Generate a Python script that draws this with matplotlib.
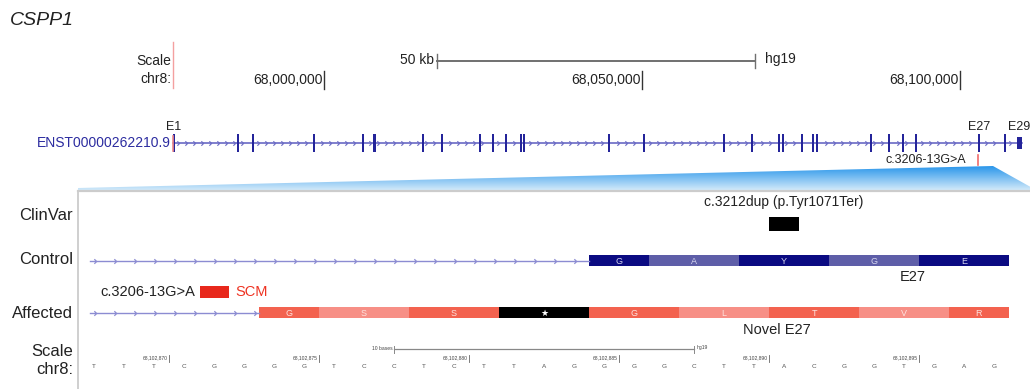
import numpy as np
import matplotlib
matplotlib.use("Agg")
import matplotlib.pyplot as plt
from matplotlib.path import Path
from matplotlib.patches import Rectangle, Polygon
from matplotlib.colors import to_rgb

plt.rcParams['font.family'] = ['Liberation Sans', 'DejaVu Sans']

# ---------------- data ----------------
gene_name = "CSPP1"
transcript_id = "ENST00000262210.9"
chrom = "chr8"
ruler_ticks = [68000000, 68050000, 68100000]
scale_bar_start = 68017760
scale_bar_len = 50000
scale_bar_label = "50 kb"
assembly = "hg19"

exon_starts = [67976260, 67986320, 67988680, 67998270, 68005970, 68007700,
               68015400, 68018390, 68024370, 68026410, 68028450, 68030810,
               68031280, 68044650, 68050150, 68062720, 68067120, 68071370,
               68072000, 68074980, 68076710, 68077340, 68085830, 68088660,
               68090860, 68092900, 68102880, 68106900, 68108940]
exon_widths = [150, 150, 150, 150, 150, 470, 150, 150, 150, 150, 150, 150,
               150, 150, 150, 150, 150, 150, 150, 150, 150, 150, 150, 150,
               150, 150, 150, 150, 800]
exon_names = {0: "E1", 26: "E27", 28: "E29"}
variant_pos = 68102872
variant_label = "c.3206-13G>A"

zoom_start = 68102868
bases = list("TTTCGGGGTCCTCTTAGGGGCTTACGGTGAG")
base_ticks = [68102870, 68102875, 68102880, 68102885, 68102890, 68102895]
base_bar_start = 68102878
base_bar_len = 10
base_bar_label = "10 bases"

clinvar_pos = 68102891
clinvar_label = "c.3212dup (p.Tyr1071Ter)"

control_exon_start = 68102885
control_codons = ['G', 'A', 'Y', 'G', 'E']
control_codon_len = [2, 3, 3, 3, 3]

affected_exon_start = 68102874
affected_codons = ['G', 'S', 'S', '*', 'G', 'L', 'T', 'V', 'R']
affected_codon_len = [2, 3, 3, 3, 3, 3, 3, 3, 2]

# ---------------- layout ----------------
FIG_W, FIG_H = 1030, 389
fig = plt.figure(figsize=(FIG_W / 100, FIG_H / 100), dpi=100)


def overlay(xlim, name):
    ax = fig.add_axes([0, 0, 1, 1], label=name)
    ax.set_xlim(*xlim)
    ax.set_ylim(FIG_H, 0)
    ax.axis('off')
    ax.patch.set_alpha(0)
    return ax


TXT = '#222222'
ax_px = overlay((0, FIG_W), 'px')
TOP_REF_PX, TOP_BP_PER_PX = 324, 157.2
ax_top = overlay((ruler_ticks[0] - TOP_REF_PX * TOP_BP_PER_PX,
                  ruler_ticks[0] + (FIG_W - TOP_REF_PX) * TOP_BP_PER_PX), 'top')
BOT_REF_PX, BOT_PX_PER_BASE = 94, 30
ax_bot = overlay((zoom_start - BOT_REF_PX / BOT_PX_PER_BASE,
                  zoom_start + (FIG_W - BOT_REF_PX) / BOT_PX_PER_BASE), 'bot')

chev = Path([(-0.5, 1.0), (0.5, 0.0), (-0.5, -1.0)],
            [Path.MOVETO, Path.LINETO, Path.LINETO])

# title
ax_px.text(10, 20, gene_name, style='italic', fontsize=14, va='center',
           ha='left', color=TXT)

# ---------------- top ruler ----------------
tx_start = exon_starts[0]
tx_end = exon_starts[-1] + exon_widths[-1]
ax_top.annotate("Scale", (tx_start, 61), xytext=(-1.5, 0), textcoords='offset points',
                ha='right', va='center', fontsize=10, color=TXT)
ax_top.annotate(chrom + ":", (tx_start, 79), xytext=(-1.5, 0), textcoords='offset points',
                ha='right', va='center', fontsize=10, color=TXT)
ax_top.plot([tx_start, tx_start], [42, 88], color='#f4a0a0', lw=1.0)

sb_end = scale_bar_start + scale_bar_len
ax_top.plot([scale_bar_start, sb_end], [61, 61], color='#707070', lw=1.4)
for xx in (scale_bar_start, sb_end):
    ax_top.plot([xx, xx], [54, 68], color='#707070', lw=1.0)
ax_top.annotate(scale_bar_label, (scale_bar_start, 60), xytext=(-2.5, 0),
                textcoords='offset points', ha='right', va='center',
                fontsize=10, color=TXT)
ax_top.annotate(assembly, (sb_end, 59), xytext=(7, 0), textcoords='offset points',
                ha='left', va='center', fontsize=10, color=TXT)
for t in ruler_ticks:
    ax_top.plot([t, t], [71, 89], color='#333333', lw=1.0)
    ax_top.annotate(f"{t:,}", (t, 80), xytext=(-1, 0), textcoords='offset points',
                    ha='right', va='center', fontsize=10, color=TXT)

# ---------------- transcript ----------------
Y_TX = 143
ax_top.plot([tx_start, tx_end], [Y_TX, Y_TX], color='#5c5cc0', lw=1.1, zorder=2)
min_w = 1.7 * TOP_BP_PER_PX
chev_x = np.arange(tx_start + 5 * TOP_BP_PER_PX, tx_end, 8 * TOP_BP_PER_PX)
es = np.array(exon_starts)
keep = [x for x in chev_x if np.min(np.abs(es - x)) > 2.5 * TOP_BP_PER_PX]
ax_top.plot(keep, [Y_TX] * len(keep), linestyle='none', marker=chev,
            markersize=3.2, markerfacecolor='none', markeredgecolor='#6a6ac4',
            markeredgewidth=0.8, zorder=2)
for i, (s, w) in enumerate(zip(exon_starts, exon_widths)):
    h = 18 if i != len(exon_starts) - 1 else 12
    ax_top.add_patch(Rectangle((s, Y_TX - h / 2), max(w, min_w), h,
                               facecolor='#24249a', edgecolor='none', zorder=3))
ax_top.plot([tx_start, tx_start], [136, 151], color='#f08a8a', lw=1.2, zorder=4)
for i, nm in exon_names.items():
    ha = 'left' if i == len(exon_starts) - 1 else 'center'
    off = -8 if ha == 'left' else 0
    ax_top.annotate(nm, (exon_starts[i] + exon_widths[i] / 2, 127), xytext=(off, 0),
                    textcoords='offset points', ha=ha, va='center',
                    fontsize=9, color=TXT)
ax_top.annotate(transcript_id, (tx_start, Y_TX), xytext=(-1.5, 0),
                textcoords='offset points', ha='right', va='center',
                fontsize=10, color='#2c2ca0')
ax_top.plot([variant_pos, variant_pos], [155, 165], color='#f06b6b', lw=1.2)
ax_top.annotate(variant_label, (variant_pos, 160), xytext=(-9, 0),
                textcoords='offset points', ha='right', va='center',
                fontsize=9, color=TXT)

# ---------------- zoom wedge + panel ----------------
wedge = Polygon([(78, 191), (78, 188), (993, 166), (1036, 190), (1036, 191)],
                closed=True, facecolor='none', edgecolor='none')
ax_px.add_patch(wedge)
c_top = np.array(to_rgb('#2393ea'))
c_bot = np.array(to_rgb('#d8ecfa'))
tt = np.linspace(0, 1, 64)[:, None, None]
grad = c_top * (1 - tt) + c_bot * tt
im = ax_px.imshow(grad, extent=[78, 1036, 191, 165], origin='upper',
                  aspect='auto', interpolation='bilinear', zorder=1)
im.set_clip_path(wedge)
ax_px.set_xlim(0, FIG_W)
ax_px.set_ylim(FIG_H, 0)
ax_px.plot([78, FIG_W], [191, 191], color='#cccccc', lw=1.6, zorder=2)
ax_px.plot([78, 78], [191, FIG_H], color='#cccccc', lw=1.3, zorder=2)

# track labels
for lab, yy in [("ClinVar", 215), ("Control", 260), ("Affected", 313),
                ("Scale", 351), (chrom + ":", 369)]:
    ax_px.text(73, yy, lab, ha='right', va='center', fontsize=12, color=TXT)

# ---------------- ClinVar ----------------
ax_bot.add_patch(Rectangle((clinvar_pos - 0.5, 217), 1, 14, facecolor='black',
                           edgecolor='none'))
ax_bot.text(clinvar_pos, 202, clinvar_label, ha='center', va='center',
            fontsize=10, color=TXT)


def draw_track(y, exon_start, codons, lens, dark, light, txtcol):
    intron_left = zoom_start - 0.13
    intron_right = exon_start - 0.5
    ax_bot.plot([intron_left, intron_right], [y, y], color='#8c8cd2', lw=1.0)
    cx = np.arange(intron_left + 0.15, intron_right - 0.1, 2 / 3)
    ax_bot.plot(cx, [y] * len(cx), linestyle='none', marker=chev, markersize=3.3,
                markerfacecolor='none', markeredgecolor='#8c8cd2',
                markeredgewidth=0.9)
    pos = exon_start - 0.5
    for k, (aa, n) in enumerate(zip(codons, lens)):
        col = dark if k % 2 == 0 else light
        tcol = txtcol
        label = aa
        if aa == '*':
            col = 'black'
            tcol = 'white'
            label = '★'
        ax_bot.add_patch(Rectangle((pos, y - 5.5), n, 11, facecolor=col,
                                   edgecolor='none'))
        ax_bot.text(pos + n / 2, y + 0.5, label, ha='center', va='center',
                    fontsize=6.5, color=tcol)
        pos += n


draw_track(260.5, control_exon_start, control_codons, control_codon_len,
           '#0b0b82', '#5e5ea8', '#d6d6ee')
draw_track(312.5, affected_exon_start, affected_codons, affected_codon_len,
           '#f3624f', '#f78f86', '#fde2de')

ax_px.text(913, 277, "E27", ha='center', va='center', fontsize=10.5, color=TXT)
ax_px.text(777, 330, "Novel E27", ha='center', va='center', fontsize=10.5, color=TXT)

# legend for the variant
ax_px.text(100, 292, variant_label, ha='left', va='center', fontsize=10.5, color=TXT)
ax_px.add_patch(Rectangle((200, 286), 29, 12, facecolor='#e8281c', edgecolor='none'))
ax_px.text(235, 292, "SCM", ha='left', va='center', fontsize=10.5, color='#ee3322')

# ---------------- bottom ruler ----------------
bb0 = base_bar_start
bb1 = base_bar_start + base_bar_len
ax_bot.plot([bb0, bb1], [349, 349], color='#888888', lw=0.9)
for xx in (bb0, bb1):
    ax_bot.plot([xx, xx], [345.5, 352.5], color='#888888', lw=0.7)
ax_bot.annotate(base_bar_label, (bb0, 348), xytext=(-1, 0), textcoords='offset points',
                ha='right', va='center', fontsize=3.6, color='#444444')
ax_bot.annotate(assembly, (bb1, 348), xytext=(2, 0), textcoords='offset points',
                ha='left', va='center', fontsize=3.6, color='#444444')
for t in base_ticks:
    ax_bot.plot([t + 0.5, t + 0.5], [355, 361.5], color='#666666', lw=0.6)
    ax_bot.annotate(f"{t:,}", (t + 0.5, 358), xytext=(-0.8, 0),
                    textcoords='offset points', ha='right', va='center',
                    fontsize=3.6, color='#444444')
for k, b in enumerate(bases):
    ax_bot.text(zoom_start + k, 366.5, b, ha='center', va='center',
                fontsize=4.6, color='#555555')

fig.savefig("out.png", dpi=100)
